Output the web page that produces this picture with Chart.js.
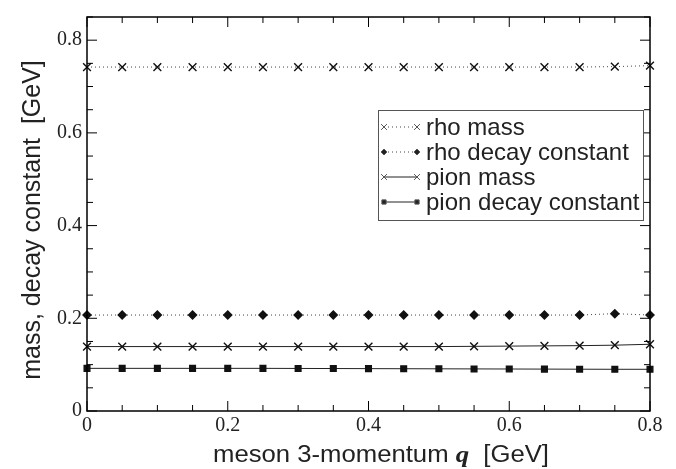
<!DOCTYPE html>
<html>
<head>
<meta charset="utf-8">
<script src="https://cdn.jsdelivr.net/npm/chart.js@4"></script>
<style>
  html, body { margin: 0; padding: 0; background: #fff; }
  #wrap { width: 676px; height: 469px; }
</style>
</head>
<body>
<div id="wrap"><canvas id="chart1" width="676" height="469"></canvas></div>
<script>
const qValues = [0, 0.05, 0.1, 0.15, 0.2, 0.25, 0.3, 0.35, 0.4, 0.45, 0.5, 0.55, 0.6, 0.65, 0.7, 0.75, 0.8];
const rhoMass = [0.742, 0.742, 0.742, 0.742, 0.742, 0.742, 0.742, 0.742, 0.742, 0.742, 0.742, 0.742, 0.742, 0.742, 0.742, 0.743, 0.745];
const rhoDecay = [0.207, 0.207, 0.207, 0.207, 0.207, 0.207, 0.207, 0.207, 0.207, 0.207, 0.207, 0.207, 0.207, 0.207, 0.207, 0.210, 0.207];
const pionMass = [0.139, 0.139, 0.139, 0.139, 0.139, 0.139, 0.139, 0.139, 0.139, 0.139, 0.139, 0.1395, 0.140, 0.1405, 0.141, 0.142, 0.144];
const pionDecay = [0.092, 0.092, 0.092, 0.092, 0.092, 0.092, 0.0918, 0.0916, 0.0914, 0.0912, 0.091, 0.0908, 0.0906, 0.0904, 0.0902, 0.090, 0.090];
const xMajor = [0, 0.2, 0.4, 0.6, 0.8];
const yMajor = [0, 0.2, 0.4, 0.6, 0.8];

const seriesLabels = ['rho mass', 'rho decay constant', 'pion mass', 'pion decay constant'];

function pts(ys) {
  return qValues.map((q, i) => ({ x: q, y: ys[i] }));
}

// frame, inward ticks on all four sides, axis titles and the boxed legend
const decor = {
  id: 'decor',
  afterDraw(chart) {
    const c = chart.ctx;
    const a = chart.chartArea;
    const xs = chart.scales.x, ys = chart.scales.y;
    c.save();
    c.strokeStyle = '#000';
    c.lineWidth = 1.5;
    c.strokeRect(a.left, a.top, a.right - a.left, a.bottom - a.top);
    c.lineWidth = 1;
    c.beginPath();
    for (let k = 0; k <= 16; k++) {
      const v = k * 0.05;
      const len = (k % 4 === 0) ? 10 : 6;
      const px = xs.getPixelForValue(v);
      c.moveTo(px, a.bottom); c.lineTo(px, a.bottom - len);
      c.moveTo(px, a.top); c.lineTo(px, a.top + len);
    }
    for (let k = 0; k <= 17; k++) {
      const v = k * 0.05;
      const len = (k % 4 === 0) ? 10 : 6;
      const py = ys.getPixelForValue(v);
      c.moveTo(a.left, py); c.lineTo(a.left + len, py);
      c.moveTo(a.right, py); c.lineTo(a.right - len, py);
    }
    c.stroke();

    // x title with bold italic q, stretched a little sideways
    c.fillStyle = '#222';
    c.textBaseline = 'alphabetic';
    const p1 = 'meson 3-momentum ', p3 = '  [GeV]';
    const sans = '23px "Liberation Sans", Arial, sans-serif';
    const serif = 'bold italic 24px "Liberation Serif", serif';
    c.font = sans;
    const w1 = c.measureText(p1).width, w3 = c.measureText(p3).width;
    c.font = serif;
    const w2 = c.measureText('q').width;
    const sx = 336 / (w1 + w2 + w3);
    c.save();
    c.translate(213, 462);
    c.scale(sx, 1);
    c.font = sans; c.fillText(p1, 0, 0);
    c.font = serif; c.fillText('q', w1, 0);
    c.font = sans; c.fillText(p3, w1 + w2, 0);
    c.restore();

    // y title
    c.save();
    c.translate(40, 220);
    c.rotate(-Math.PI / 2);
    c.textAlign = 'center';
    c.font = '25px "Liberation Sans", Arial, sans-serif';
    c.fillText('mass, decay constant  [GeV]', 0, 0);
    c.restore();

    // legend
    const bx = 378, by = 110, bw = 265, bh = 110;
    c.fillStyle = '#fff';
    c.fillRect(bx, by, bw, bh);
    c.strokeStyle = '#555';
    c.lineWidth = 1;
    c.strokeRect(bx + 0.5, by + 0.5, bw, bh);
    chart.data.datasets.forEach((ds, i) => {
      const ly = by + 17 + i * 25;
      const lx1 = bx + 6, lx2 = bx + 39;
      c.save();
      c.strokeStyle = ds.borderColor;
      c.lineWidth = 1;
      c.setLineDash(ds.borderDash || []);
      c.beginPath(); c.moveTo(lx1, ly); c.lineTo(lx2, ly); c.stroke();
      c.restore();
      [lx1, lx2].forEach(px => {
        Chart.helpers.drawPoint(c, {
          pointStyle: ds.pointStyle, radius: ds.pointRadius * 0.75, borderWidth: 1.2
        }, px, ly);
      });
      c.fillStyle = '#222';
      c.font = '24px "Liberation Sans", Arial, sans-serif';
      c.textBaseline = 'middle';
      c.fillText(seriesLabels[i], bx + 48, ly + 1);
    });
    c.restore();
  }
};

const common = {
  showLine: true,
  borderWidth: 1,
  pointBorderWidth: 1.4,
  pointBorderColor: '#111',
  pointBackgroundColor: '#111',
  clip: false
};

const ctx = document.getElementById('chart1').getContext('2d');
const myChart = new Chart(ctx, {
  type: 'scatter',
  data: {
    datasets: [
      { ...common, label: seriesLabels[0], data: pts(rhoMass), borderColor: '#444', borderDash: [1, 3], pointStyle: 'crossRot', pointRadius: 5.5 },
      { ...common, label: seriesLabels[1], data: pts(rhoDecay), borderColor: '#444', borderDash: [1, 3], pointStyle: 'rectRot', pointRadius: 4 },
      { ...common, label: seriesLabels[2], data: pts(pionMass), borderColor: '#222', pointStyle: 'crossRot', pointRadius: 5.5 },
      { ...common, label: seriesLabels[3], data: pts(pionDecay), borderColor: '#222', pointStyle: 'rect', pointRadius: 4 }
    ]
  },
  options: {
    responsive: false,
    animation: false,
    events: [],
    layout: { padding: { top: 13, right: 26, left: 0, bottom: 0 } },
    plugins: { legend: { display: false }, tooltip: { enabled: false } },
    scales: {
      x: {
        type: 'linear', min: 0, max: 0.8,
        grid: { display: false, drawTicks: false },
        border: { display: false },
        afterBuildTicks: s => { s.ticks = xMajor.map(v => ({ value: v })); },
        afterFit: s => { s.height = 58; },
        ticks: {
          color: '#222', padding: 3, maxRotation: 0,
          font: { family: '"Liberation Serif", serif', size: 20 }
        }
      },
      y: {
        type: 'linear', min: 0, max: 0.85,
        grid: { display: false, drawTicks: false },
        border: { display: false },
        afterBuildTicks: s => { s.ticks = yMajor.map(v => ({ value: v })); },
        afterFit: s => { s.width = 87; },
        ticks: {
          color: '#222', padding: 5,
          font: { family: '"Liberation Serif", serif', size: 20 }
        }
      }
    }
  },
  plugins: [decor]
});
</script>
</body>
</html>
